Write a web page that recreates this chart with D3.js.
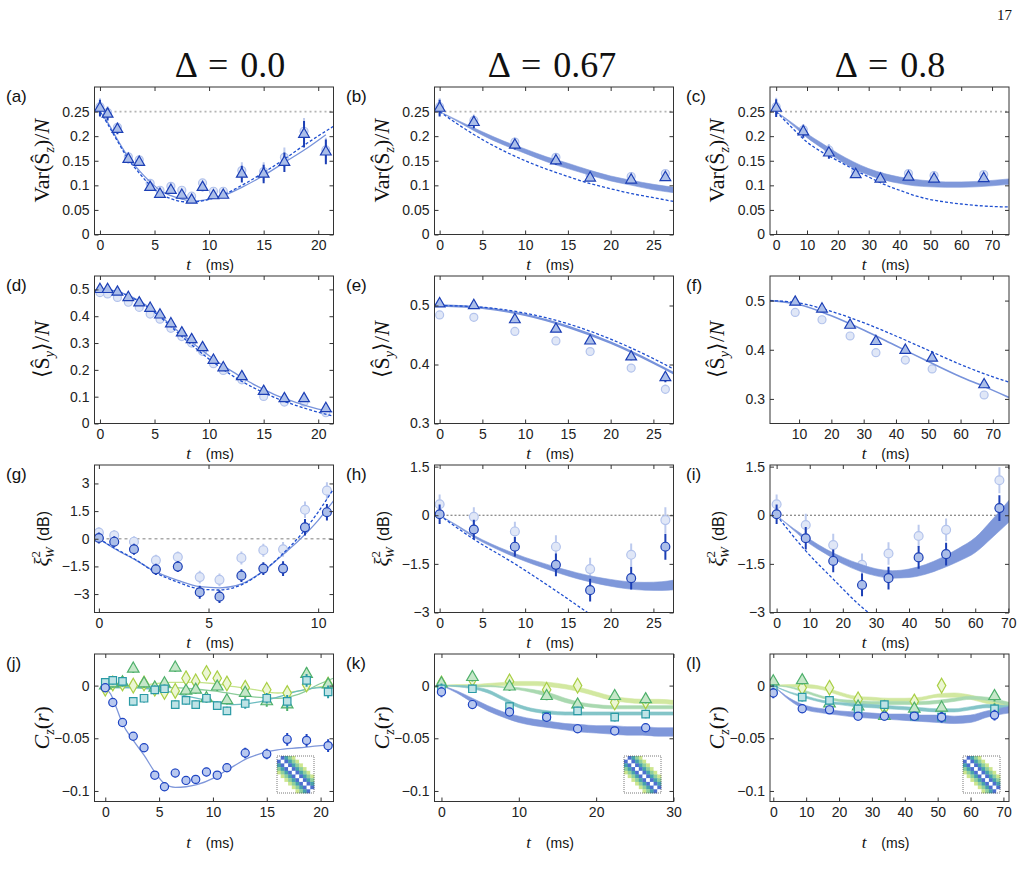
<!DOCTYPE html>
<html>
<head>
<meta charset="utf-8">
<script src="https://cdn.jsdelivr.net/npm/d3@7"></script>
<style>
body { margin: 0; background: #fff; }
svg { display: block; }
</style>
</head>
<body>
<div id="container"><svg></svg></div>
<script>
// ---------- data ----------
// measurement times (ms)
let tA = [0, 0.7, 1.6, 2.6, 3.6, 4.6, 5.5, 6.5, 7.5, 8.4, 9.4, 10.4, 11.3, 13.0, 15.0, 16.9, 18.7, 20.7];
let tB = [0, 4.0, 8.8, 13.6, 17.6, 22.4, 26.4];
let tC = [0, 8.8, 17.1, 25.8, 33.8, 42.9, 51.2, 67.3];

// (a) Var(Sz)/N, Delta = 0
let varA = [0.257, 0.245, 0.214, 0.153, 0.147, 0.096, 0.082, 0.090, 0.080, 0.070, 0.096, 0.079, 0.080, 0.123, 0.123, 0.147, 0.204, 0.168];
let varAerr = [0.017, 0.013, 0.010, 0.008, 0.007, 0.006, 0.005, 0.006, 0.006, 0.005, 0.008, 0.005, 0.005, 0.017, 0.019, 0.020, 0.027, 0.025];
let varAfaint = [0.260, 0.248, 0.218, 0.158, 0.152, 0.104, 0.090, 0.098, 0.090, 0.078, 0.105, 0.088, 0.088, 0.130, 0.128, 0.157, 0.210, 0.172];
let solidAt = [0, 0.7, 1.6, 2.6, 3.6, 4.6, 5.5, 6.5, 7.5, 8.5, 9.5, 10.5, 11.5, 13, 15, 17, 19, 20.7];
let solidAy = [0.25, 0.228, 0.193, 0.157, 0.13, 0.107, 0.09, 0.079, 0.072, 0.068, 0.07, 0.074, 0.081, 0.096, 0.12, 0.148, 0.176, 0.203];
let dashAt = [0, 0.7, 1.6, 2.6, 3.6, 4.6, 5.5, 6.5, 7.5, 8.5, 9.5, 10.5, 11.5, 13, 15, 17, 19, 21.4];
let dashAy = [0.25, 0.225, 0.19, 0.153, 0.125, 0.1, 0.083, 0.073, 0.067, 0.066, 0.069, 0.075, 0.083, 0.1, 0.126, 0.155, 0.186, 0.22];

// (b) Var(Sz)/N, Delta = 0.67
let varB = [0.257, 0.228, 0.182, 0.150, 0.115, 0.111, 0.116];
let varBerr = [0.017, 0.012, 0.009, 0.008, 0.006, 0.005, 0.006];
let varBfaint = [0.260, 0.232, 0.188, 0.157, 0.121, 0.118, 0.124];
let bandBt = [0, 2.5, 5, 7.5, 10, 12.5, 15, 17.5, 20, 22.5, 25, 27.4];
let bandBhi = [0.25, 0.229, 0.209, 0.19, 0.174, 0.158, 0.145, 0.131, 0.119, 0.11, 0.102, 0.096];
let bandBlo = [0.25, 0.226, 0.202, 0.182, 0.165, 0.148, 0.134, 0.121, 0.109, 0.1, 0.091, 0.085];
let dashBy = [0.25, 0.22, 0.193, 0.17, 0.15, 0.133, 0.118, 0.104, 0.093, 0.083, 0.075, 0.067];

// (c) Var(Sz)/N, Delta = 0.8
let varC = [0.257, 0.209, 0.166, 0.122, 0.113, 0.117, 0.113, 0.114];
let varCerr = [0.018, 0.012, 0.012, 0.007, 0.006, 0.006, 0.005, 0.006];
let varCfaint = [0.260, 0.213, 0.172, 0.128, 0.118, 0.124, 0.120, 0.122];
let bandCt = [0, 5, 10, 15, 20, 25, 30, 35, 40, 45, 50, 55, 60, 65, 70, 75.5];
let bandChi = [0.25, 0.228, 0.205, 0.185, 0.165, 0.148, 0.134, 0.124, 0.117, 0.112, 0.109, 0.107, 0.107, 0.108, 0.11, 0.113];
let bandClo = [0.25, 0.224, 0.197, 0.175, 0.153, 0.135, 0.121, 0.111, 0.104, 0.099, 0.097, 0.096, 0.096, 0.097, 0.099, 0.102];
let dashCy = [0.25, 0.218, 0.188, 0.167, 0.15, 0.133, 0.117, 0.102, 0.09, 0.079, 0.071, 0.066, 0.062, 0.059, 0.057, 0.056];

// (d) <Sy>/N, Delta = 0
let syD = [0.5, 0.5, 0.49, 0.47, 0.45, 0.43, 0.405, 0.372, 0.338, 0.313, 0.283, 0.236, 0.208, 0.175, 0.12, 0.093, 0.093, 0.056];
let syDerr = [0.005, 0.005, 0.005, 0.005, 0.005, 0.005, 0.005, 0.006, 0.006, 0.006, 0.006, 0.006, 0.006, 0.008, 0.008, 0.009, 0.01, 0.01];
let syDfaint = [0.488, 0.483, 0.47, 0.452, 0.433, 0.408, 0.389, 0.355, 0.324, 0.3, 0.269, 0.223, 0.198, 0.163, 0.101, 0.08, 0.08, 0.04];
let lineDt = [0, 1, 2, 3, 4, 5, 6, 7, 8, 9, 10, 11, 12, 13, 14, 15, 16, 17, 18, 19, 20, 21.3];
let solidDy = [0.5, 0.497, 0.487, 0.47, 0.447, 0.418, 0.385, 0.35, 0.317, 0.284, 0.253, 0.224, 0.197, 0.172, 0.148, 0.127, 0.108, 0.092, 0.078, 0.065, 0.054, 0.043];
let dashDy = [0.5, 0.497, 0.486, 0.468, 0.444, 0.414, 0.38, 0.343, 0.307, 0.273, 0.24, 0.21, 0.182, 0.157, 0.135, 0.115, 0.097, 0.081, 0.067, 0.054, 0.042, 0.028];

// (e) <Sy>/N, Delta = 0.67
let syE = [0.503, 0.5, 0.476, 0.46, 0.44, 0.413, 0.378];
let syEerr = [0.003, 0.004, 0.005, 0.005, 0.005, 0.006, 0.008];
let syEfaint = [0.484, 0.48, 0.456, 0.44, 0.422, 0.394, 0.358];
let lineEt = [0, 5, 10, 15, 20, 25, 27.4];
let solidEy = [0.5, 0.496, 0.484, 0.464, 0.437, 0.403, 0.385];
let dashEy = [0.5, 0.497, 0.487, 0.469, 0.443, 0.41, 0.392];

// (f) <Sy>/N, Delta = 0.8
let syF = [0.497, 0.483, 0.45, 0.417, 0.399, 0.383, 0.329];
let syFerr = [0.004, 0.005, 0.005, 0.006, 0.007, 0.006, 0.007];
let syFfaint = [0.476, 0.461, 0.428, 0.394, 0.379, 0.361, 0.308];
let solidFt = [1, 10, 20, 30, 40, 50, 60, 67, 75];
let solidFy = [0.5, 0.492, 0.469, 0.44, 0.408, 0.376, 0.345, 0.326, 0.303];
let dashFt = [1, 10, 20, 30, 40, 50, 60, 70, 75];
let dashFy = [0.5, 0.495, 0.478, 0.455, 0.428, 0.399, 0.37, 0.345, 0.334];

// (g) xi_W^2 (dB), Delta = 0
let xiG = [0.04, -0.16, -0.57, -1.66, -1.51, -2.9, -3.14, -2.0, -1.62, -1.62, 0.62, 1.44];
let xiGerr = [0.3, 0.3, 0.3, 0.3, 0.3, 0.35, 0.35, 0.35, 0.35, 0.4, 0.45, 0.45];
let xiGfaint = [0.33, 0.18, -0.16, -1.17, -0.99, -2.08, -2.23, -1.04, -0.62, -0.57, 1.57, 2.61];
let lineGt = [0, 0.7, 1.7, 2.6, 3.6, 4.6, 5.5, 6.5, 7.5, 8.4, 9.2, 10, 10.7];
let solidGy = [0, -0.53, -1.17, -1.8, -2.26, -2.6, -2.66, -2.45, -1.75, -0.85, 0, 1.0, 2.05];
let dashGy = [0, -0.5, -1.15, -1.85, -2.35, -2.72, -2.78, -2.5, -1.75, -0.8, 0.2, 1.45, 2.7];

// (h) xi_W^2 (dB), Delta = 0.67
let xiH = [0.03, -0.44, -0.97, -1.53, -2.31, -1.94, -0.97];
let xiHerr = [0.3, 0.3, 0.3, 0.35, 0.35, 0.35, 0.4];
let xiHfaint = [0.34, -0.05, -0.5, -0.97, -1.66, -1.22, -0.15];
let bandHt = [0, 2, 4, 6, 8, 10, 12, 14, 16, 18, 20, 22, 24, 26, 27.4];
let bandHhi = [0, -0.3, -0.62, -0.88, -1.1, -1.3, -1.47, -1.63, -1.77, -1.89, -1.98, -2.05, -2.07, -2.05, -2.0];
let bandHlo = [0, -0.33, -0.68, -0.96, -1.2, -1.42, -1.61, -1.79, -1.95, -2.08, -2.19, -2.27, -2.31, -2.32, -2.3];
let dashHt = [0, 4, 8.8, 13.6, 17.3, 19];
let dashHy = [0, -0.74, -1.5, -2.33, -3.0, -3.3];

// (i) xi_W^2 (dB), Delta = 0.8
let xiI = [0.03, -0.71, -1.41, -2.15, -1.94, -1.3, -1.2, 0.22];
let xiIerr = [0.3, 0.35, 0.35, 0.35, 0.35, 0.35, 0.35, 0.4];
let xiIfaint = [0.34, -0.3, -0.92, -1.53, -1.18, -0.64, -0.45, 1.08];
let bandIt = [0, 5, 10, 15, 20, 25, 30, 35, 40, 45, 50, 55, 60, 65, 70.2];
let bandIhi = [0, -0.4, -0.74, -1.05, -1.3, -1.5, -1.65, -1.71, -1.66, -1.52, -1.3, -1.02, -0.69, -0.15, 0.46];
let bandIlo = [0, -0.45, -0.88, -1.2, -1.5, -1.72, -1.87, -1.94, -1.92, -1.82, -1.64, -1.42, -1.15, -0.7, -0.21];
let dashIt = [0, 8.8, 17.1, 25.8, 27.7, 30];
let dashIy = [0, -1.1, -1.97, -2.84, -3.0, -3.2];

// (j) Cz(r), Delta = 0 ; r = 1..4
let czJ1 = [-0.002, -0.016, -0.035, -0.048, -0.059, -0.085, -0.096, -0.083, -0.09, -0.089, -0.082, -0.085, -0.078, -0.064, -0.065, -0.051, -0.052, -0.057];
let czJ2 = [0.003, 0.005, 0.004, -0.015, -0.012, -0.004, -0.003, -0.018, -0.014, -0.018, -0.012, -0.019, -0.024, -0.017, -0.012, -0.015, 0.005, -0.006];
let czJ3 = [0, 0.002, 0.003, 0.016, 0.002, -0.002, 0.002, 0.017, -0.005, -0.004, -0.012, -0.001, -0.014, -0.007, -0.015, -0.018, 0.011, 0.001];
let czJ4 = [-0.003, 0.002, 0.002, 0, 0.002, -0.003, -0.006, -0.005, 0.007, 0.004, 0.012, 0.007, 0.002, -0.002, -0.004, -0.007, 0.001, 0.001];
let czJerr = [0.004, 0.004, 0.004, 0.004, 0.004, 0.004, 0.004, 0.004, 0.004, 0.004, 0.004, 0.004, 0.004, 0.005, 0.005, 0.006, 0.006, 0.006];
let czJ1t = [0, 0.5, 1, 1.6, 2.6, 3.6, 4.6, 5.5, 6.5, 7.5, 8.5, 10, 11, 12, 13, 14, 15, 16, 18, 20, 21.2];
let czJ1line = [-0.002, -0.008, -0.02, -0.036, -0.052, -0.066, -0.082, -0.093, -0.0965, -0.096, -0.094, -0.088, -0.082, -0.076, -0.07, -0.066, -0.063, -0.061, -0.059, -0.057, -0.056];
let czJt = [0, 2, 4, 6, 8, 10, 12, 14, 16, 18, 20, 21.2];
let czJ2line = [-0.002, -0.002, -0.003, -0.006, -0.011, -0.015, -0.018, -0.016, -0.011, -0.005, -0.002, -0.002];
let czJ3line = [-0.002, -0.002, -0.002, -0.002, -0.003, -0.005, -0.008, -0.011, -0.012, -0.008, 0.002, 0.007];
let czJ4line = [-0.002, -0.001, 0.001, 0.003, 0.003, 0.002, -0.001, -0.004, -0.007, -0.005, -0.001, 0.001];

// (k) Cz(r), Delta = 0.67
let czK1 = [-0.006, -0.018, -0.025, -0.03, -0.041, -0.043, -0.04];
let czK2 = [-0.003, -0.003, -0.02, -0.029, -0.024, -0.03, -0.027];
let czK3 = [0.002, 0.008, -0.001, -0.01, -0.018, -0.01, -0.013];
let czK4 = [0.002, 0.006, 0.004, -0.004, 0, -0.016, -0.015];
let czKerr = [0.005, 0.004, 0.004, 0.004, 0.004, 0.004, 0.004];
let bandKt = [0, 2, 4, 6, 8, 10, 12, 14, 16, 18, 20, 22, 24, 26, 28, 30];
let bandK1hi = [0, -0.005, -0.012, -0.019, -0.025, -0.029, -0.032, -0.034, -0.036, -0.037, -0.038, -0.038, -0.039, -0.039, -0.04, -0.04];
let bandK1lo = [0, -0.007, -0.016, -0.024, -0.03, -0.035, -0.038, -0.04, -0.042, -0.044, -0.045, -0.046, -0.047, -0.047, -0.048, -0.048];
let bandK2hi = [0, 0, -0.001, -0.004, -0.011, -0.018, -0.022, -0.024, -0.025, -0.025, -0.025, -0.025, -0.025, -0.025, -0.025, -0.025];
let bandK2lo = [0, -0.001, -0.003, -0.007, -0.014, -0.021, -0.025, -0.027, -0.028, -0.028, -0.028, -0.028, -0.028, -0.028, -0.028, -0.028];
let bandK3hi = [0, 0, 0, 0, -0.001, -0.002, -0.004, -0.007, -0.012, -0.016, -0.018, -0.019, -0.019, -0.019, -0.019, -0.019];
let bandK3lo = [0, 0, -0.001, -0.001, -0.002, -0.004, -0.007, -0.011, -0.016, -0.019, -0.021, -0.022, -0.022, -0.022, -0.022, -0.022];
let bandK4hi = [0, 0.001, 0.001, 0.002, 0.003, 0.004, 0.004, 0.003, 0.001, -0.002, -0.006, -0.01, -0.012, -0.013, -0.013, -0.014];
let bandK4lo = [0, -0.001, -0.001, -0.001, 0, 0, 0, -0.001, -0.003, -0.006, -0.01, -0.014, -0.016, -0.017, -0.017, -0.018];

// (l) Cz(r), Delta = 0.8
let czL1 = [-0.007, -0.022, -0.023, -0.029, -0.029, -0.029, -0.03, -0.028];
let czL2 = [-0.004, -0.011, -0.014, -0.022, -0.018, -0.029, -0.03, -0.022];
let czL3 = [0.004, 0.005, -0.017, -0.02, -0.029, -0.022, -0.021, -0.01];
let czL4 = [0.002, -0.002, -0.002, -0.013, -0.021, -0.015, 0, -0.024];
let czLerr = [0.005, 0.004, 0.004, 0.004, 0.004, 0.004, 0.005, 0.005];
let bandLt = [0, 5, 10, 15, 20, 25, 30, 35, 40, 45, 50, 55, 60, 65, 71.7];
let bandL1hi = [0, -0.012, -0.019, -0.022, -0.024, -0.025, -0.026, -0.027, -0.027, -0.028, -0.028, -0.029, -0.028, -0.024, -0.02];
let bandL1lo = [0, -0.014, -0.023, -0.026, -0.028, -0.03, -0.031, -0.032, -0.033, -0.034, -0.035, -0.036, -0.035, -0.03, -0.026];
let bandL2hi = [0, -0.006, -0.01, -0.014, -0.016, -0.017, -0.018, -0.019, -0.02, -0.021, -0.022, -0.022, -0.02, -0.018, -0.019];
let bandL2lo = [0, -0.007, -0.012, -0.016, -0.018, -0.02, -0.021, -0.022, -0.023, -0.024, -0.025, -0.025, -0.023, -0.021, -0.023];
let bandL3hi = [0, -0.001, -0.005, -0.01, -0.013, -0.014, -0.015, -0.015, -0.015, -0.015, -0.014, -0.012, -0.01, -0.011, -0.016];
let bandL3lo = [0, -0.002, -0.007, -0.012, -0.015, -0.017, -0.018, -0.018, -0.018, -0.018, -0.017, -0.015, -0.013, -0.014, -0.019];
let bandL4hi = [0, 0.001, 0.001, -0.001, -0.006, -0.01, -0.011, -0.012, -0.012, -0.011, -0.008, -0.007, -0.009, -0.013, -0.016];
let bandL4lo = [0, -0.001, -0.002, -0.004, -0.009, -0.013, -0.014, -0.015, -0.015, -0.014, -0.011, -0.011, -0.013, -0.017, -0.02];

// column titles and inset colours (|i-j| = 0..4)
let deltaTitles = ['0.0', '0.67', '0.8'];
let insetColors = ['#ffffff', '#4d6fd0', '#47a2ad', '#8fcf9c', '#cde68f'];

// ---------- styles ----------
const sansFont = 'Liberation Sans, Arial, sans-serif';
const serifFont = 'Liberation Serif, Times New Roman, serif';
const darkCol = '#1c3fb5', triFill = '#abbee9';
const faintStroke = '#b3c3ec', faintFill = '#e0e7f7', faintErr = '#bccaee';
const lineCol = '#7893db', dashCol = '#1f4fd0', bandCol = '#7f98da';
const rCols = [
    {stroke: '#1e44c2', fill: '#b8c8ef', band: '#7f97da', line: '#7f97da'},
    {stroke: '#2a9aa5', fill: '#bfe3e6', band: '#84c5c8', line: '#6cbcc0'},
    {stroke: '#4fb06c', fill: '#c6e7c9', band: '#a9d9b0', line: '#8ccc9a'},
    {stroke: '#a9cf45', fill: '#ecf6d3', band: '#d2e8a0', line: '#c5e38a'}
];

let svg = d3.select('#container').select('svg')
    .attr('width', 1027)
    .attr('height', 869);

let colLeft = [94.5, 434.5, 770];
let rowTop = [87, 276, 465, 654];
let boxW = 239, boxH = 147.5;
let letterX = [6, 346, 686];

function fmt(d) {
    return (d < 0 ? '\u2212' : '') + Math.abs(d);
}

function makePanel(p) {
    let L = colLeft[p.col], T = rowTop[p.row];
    let R = L + boxW, B = T + boxH;
    let x = d3.scaleLinear().domain(p.xd).range([L, R]);
    let y = d3.scaleLinear().domain(p.yd).range([B, T]);
    let id = 'clip_' + p.letter;
    svg.append('clipPath').attr('id', id)
        .append('rect').attr('x', L).attr('y', T).attr('width', boxW).attr('height', boxH);
    let g = svg.append('g');
    let plot = g.append('g').attr('clip-path', `url(#${id})`);
    return {L, T, R, B, x, y, g, plot, p};
}

function styleAxis(sel) {
    sel.select('.domain').remove();
    sel.selectAll('line').attr('stroke', '#333');
    sel.selectAll('text').attr('font-family', sansFont).attr('font-size', 14).attr('fill', '#222');
}

function refLine(P, v, color, dash, w) {
    P.plot.append('line')
        .attr('x1', P.L).attr('x2', P.R)
        .attr('y1', P.y(v)).attr('y2', P.y(v))
        .attr('stroke', color).attr('stroke-dasharray', dash).attr('stroke-width', w);
}

function drawLine(P, t, v, color, w, dash) {
    let line = d3.line()
        .x(d => P.x(d))
        .y((d, i) => P.y(v[i]))
        .curve(d3.curveMonotoneX);
    P.plot.append('path')
        .attr('d', line(t))
        .attr('fill', 'none')
        .attr('stroke', color)
        .attr('stroke-width', w)
        .attr('stroke-dasharray', dash || null);
}

function drawBand(P, t, lo, hi, color) {
    let area = d3.area()
        .x(d => P.x(d))
        .y0((d, i) => P.y(lo[i]))
        .y1((d, i) => P.y(hi[i]))
        .curve(d3.curveMonotoneX);
    P.plot.append('path')
        .attr('d', area(t))
        .attr('fill', color)
        .attr('stroke', color)
        .attr('stroke-width', 0.6);
}

function drawErr(P, t, v, e, color, w) {
    P.plot.append('g').selectAll('line')
        .data(t).enter().append('line')
        .attr('x1', d => P.x(d)).attr('x2', d => P.x(d))
        .attr('y1', (d, i) => P.y(v[i] - e[i]))
        .attr('y2', (d, i) => P.y(v[i] + e[i]))
        .attr('stroke', color)
        .attr('stroke-width', w);
}

function drawPts(P, t, v, sym, size, stroke, fill) {
    P.plot.append('g').selectAll('path')
        .data(t).enter().append('path')
        .attr('transform', (d, i) => `translate(${P.x(d)},${P.y(v[i])})`)
        .attr('d', d3.symbol().type(sym).size(size)())
        .attr('fill', fill)
        .attr('stroke', stroke)
        .attr('stroke-width', 1.2);
}

// y labels, written as rotated rich text
function yLabel(P, kind) {
    let t = P.g.append('text')
        .attr('transform', `translate(${P.L - 46},${(P.T + P.B) / 2}) rotate(-90)`)
        .attr('text-anchor', 'middle')
        .attr('font-family', serifFont)
        .attr('font-size', 22)
        .attr('fill', '#111');
    if (kind === 'var') {
        t.append('tspan').text('Var(\u015C');
        t.append('tspan').attr('font-size', 14).attr('font-style', 'italic').attr('dy', 5).text('z');
        t.append('tspan').attr('dy', -5).text(')/');
        t.append('tspan').attr('font-style', 'italic').text('N');
    } else if (kind === 'sy') {
        t.append('tspan').text('\u27E8\u015C');
        t.append('tspan').attr('font-size', 14).attr('font-style', 'italic').attr('dy', 5).text('y');
        t.append('tspan').attr('dy', -5).text('\u27E9/');
        t.append('tspan').attr('font-style', 'italic').text('N');
    } else if (kind === 'xi') {
        t.attr('font-size', 21);
        t.append('tspan').attr('font-style', 'italic').text('\u03BE');
        t.append('tspan').attr('font-size', 13).attr('dy', -9).text('2');
        t.append('tspan').attr('font-size', 13).attr('font-style', 'italic').attr('dx', -7).attr('dy', 14).text('W');
        t.append('tspan').attr('font-family', sansFont).attr('font-size', 16).attr('dx', 6).attr('dy', -5).text('(dB)');
    } else {
        t.append('tspan').attr('font-style', 'italic').text('C');
        t.append('tspan').attr('font-size', 14).attr('font-style', 'italic').attr('dy', 5).text('z');
        t.append('tspan').attr('dy', -5).text('(');
        t.append('tspan').attr('font-style', 'italic').text('r');
        t.append('tspan').text(')');
    }
}

function finishPanel(P, kind) {
    let p = P.p;
    P.g.append('g').attr('transform', `translate(0,${P.B})`)
        .call(d3.axisBottom(P.x).tickValues(p.xt).tickSize(-4).tickSizeOuter(0).tickPadding(6).tickFormat(fmt))
        .call(styleAxis);
    P.g.append('g').attr('transform', `translate(0,${P.T})`)
        .call(d3.axisTop(P.x).tickValues(p.xt).tickSize(-4).tickSizeOuter(0).tickFormat(''))
        .call(styleAxis);
    P.g.append('g').attr('transform', `translate(${P.L},0)`)
        .call(d3.axisLeft(P.y).tickValues(p.yt).tickSize(-4).tickSizeOuter(0).tickPadding(5).tickFormat(fmt))
        .call(styleAxis);
    P.g.append('g').attr('transform', `translate(${P.R},0)`)
        .call(d3.axisRight(P.y).tickValues(p.yt).tickSize(-4).tickSizeOuter(0).tickFormat(''))
        .call(styleAxis);
    P.g.append('rect')
        .attr('x', P.L).attr('y', P.T).attr('width', boxW).attr('height', boxH)
        .attr('fill', 'none').attr('stroke', '#333').attr('stroke-width', 1);

    // panel letter
    P.g.append('text')
        .attr('x', letterX[p.col]).attr('y', P.T + 15)
        .attr('font-family', sansFont).attr('font-size', 17).attr('fill', '#111')
        .text('(' + p.letter + ')');

    // x label
    let xl = P.g.append('text')
        .attr('x', (P.L + P.R) / 2 - 4)
        .attr('y', P.B + (p.row === 3 ? 46 : 35))
        .attr('text-anchor', 'middle')
        .attr('fill', '#111');
    xl.append('tspan').attr('font-family', serifFont).attr('font-style', 'italic').attr('font-size', 17).text('t');
    xl.append('tspan').attr('font-family', sansFont).attr('font-size', 14).attr('dx', 15).text('(ms)');

    yLabel(P, kind);
}

function drawInset(P, x0, y0, size) {
    let n = 10;
    let cells = [];
    for (let i = 0; i < n; i++)
        for (let j = 0; j < n; j++)
            cells.push({i: i, j: j, k: Math.abs(i - j)});
    let s = d3.scaleBand().domain(d3.range(n)).range([0, size]);
    let g = P.g.append('g').attr('transform', `translate(${x0},${y0})`);
    g.append('rect').attr('width', size).attr('height', size).attr('fill', '#fff');
    g.selectAll('rect.cell')
        .data(cells).enter().append('rect')
        .attr('class', 'cell')
        .attr('x', d => s(d.j)).attr('y', d => s(d.i))
        .attr('width', s.bandwidth() + 0.3).attr('height', s.bandwidth() + 0.3)
        .attr('fill', d => d.k < insetColors.length ? insetColors[d.k] : '#ffffff');
    g.append('rect').attr('width', size).attr('height', size)
        .attr('fill', 'none').attr('stroke', '#555').attr('stroke-width', 0.8)
        .attr('stroke-dasharray', '1,1');
}

// ---------- header ----------
svg.append('text')
    .attr('x', 1012).attr('y', 20)
    .attr('text-anchor', 'end')
    .attr('font-family', serifFont).attr('font-size', 15).attr('fill', '#111')
    .text('17');

let titleX = [230, 552, 890];
deltaTitles.forEach((v, i) => {
    svg.append('text')
        .attr('x', titleX[i]).attr('y', 77)
        .attr('text-anchor', 'middle')
        .attr('font-family', serifFont).attr('font-size', 36).attr('fill', '#111')
        .style('word-spacing', '3px')
        .text('\u0394 = ' + v);
});

// ---------- row 1: Var(Sz)/N ----------
let yVar = [0, 0.05, 0.1, 0.15, 0.2, 0.25];
let P;

P = makePanel({col: 0, row: 0, xd: [-0.5, 21.4], yd: [0, 0.3], xt: [0, 5, 10, 15, 20], yt: yVar, letter: 'a'});
refLine(P, 0.25, '#b4b4b4', '2,3', 1.6);
drawErr(P, tA, varAfaint, varAerr, faintErr, 2);
drawPts(P, tA, varAfaint, d3.symbolCircle, 50, faintStroke, faintFill);
drawLine(P, solidAt, solidAy, lineCol, 1.3);
drawLine(P, dashAt, dashAy, dashCol, 1.3, '3,2');
drawErr(P, tA, varA, varAerr, darkCol, 2);
drawPts(P, tA, varA, d3.symbolTriangle, 50, darkCol, triFill);
finishPanel(P, 'var');

P = makePanel({col: 1, row: 0, xd: [-0.6, 27.35], yd: [0, 0.3], xt: [0, 5, 10, 15, 20, 25], yt: yVar, letter: 'b'});
refLine(P, 0.25, '#b4b4b4', '2,3', 1.6);
drawErr(P, tB, varBfaint, varBerr, faintErr, 2);
drawPts(P, tB, varBfaint, d3.symbolCircle, 50, faintStroke, faintFill);
drawBand(P, bandBt, bandBlo, bandBhi, bandCol);
drawLine(P, bandBt, dashBy, dashCol, 1.3, '3,2');
drawErr(P, tB, varB, varBerr, darkCol, 2);
drawPts(P, tB, varB, d3.symbolTriangle, 50, darkCol, triFill);
finishPanel(P, 'var');

P = makePanel({col: 2, row: 0, xd: [-2, 75.5], yd: [0, 0.3], xt: [0, 10, 20, 30, 40, 50, 60, 70], yt: yVar, letter: 'c'});
refLine(P, 0.25, '#b4b4b4', '2,3', 1.6);
drawErr(P, tC, varCfaint, varCerr, faintErr, 2);
drawPts(P, tC, varCfaint, d3.symbolCircle, 50, faintStroke, faintFill);
drawBand(P, bandCt, bandClo, bandChi, bandCol);
drawLine(P, bandCt, dashCy, dashCol, 1.3, '3,2');
drawErr(P, tC, varC, varCerr, darkCol, 2);
drawPts(P, tC, varC, d3.symbolTriangle, 50, darkCol, triFill);
finishPanel(P, 'var');

// ---------- row 2: <Sy>/N ----------
P = makePanel({col: 0, row: 1, xd: [-0.5, 21.4], yd: [0, 0.55], xt: [0, 5, 10, 15, 20], yt: [0, 0.1, 0.2, 0.3, 0.4, 0.5], letter: 'd'});
drawErr(P, tA, syDfaint, syDerr, faintErr, 2);
drawPts(P, tA, syDfaint, d3.symbolCircle, 50, faintStroke, faintFill);
drawLine(P, lineDt, solidDy, lineCol, 1.3);
drawLine(P, lineDt, dashDy, dashCol, 1.3, '3,2');
drawErr(P, tA, syD, syDerr, darkCol, 2);
drawPts(P, tA, syD, d3.symbolTriangle, 50, darkCol, triFill);
finishPanel(P, 'sy');

P = makePanel({col: 1, row: 1, xd: [-0.6, 27.35], yd: [0.3, 0.55], xt: [0, 5, 10, 15, 20, 25], yt: [0.3, 0.4, 0.5], letter: 'e'});
drawErr(P, tB, syEfaint, syEerr, faintErr, 2);
drawPts(P, tB, syEfaint, d3.symbolCircle, 50, faintStroke, faintFill);
drawLine(P, lineEt, solidEy, lineCol, 2.4);
drawLine(P, lineEt, dashEy, dashCol, 1.3, '3,2');
drawErr(P, tB, syE, syEerr, darkCol, 2);
drawPts(P, tB, syE, d3.symbolTriangle, 50, darkCol, triFill);
finishPanel(P, 'sy');

let tF = tC.slice(1);
P = makePanel({col: 2, row: 1, xd: [1, 75], yd: [0.25, 0.55], xt: [10, 20, 30, 40, 50, 60, 70], yt: [0.3, 0.4, 0.5], letter: 'f'});
drawErr(P, tF, syFfaint, syFerr, faintErr, 2);
drawPts(P, tF, syFfaint, d3.symbolCircle, 50, faintStroke, faintFill);
drawLine(P, solidFt, solidFy, lineCol, 1.6);
drawLine(P, dashFt, dashFy, dashCol, 1.3, '3,2');
drawErr(P, tF, syF, syFerr, darkCol, 2);
drawPts(P, tF, syF, d3.symbolTriangle, 50, darkCol, triFill);
finishPanel(P, 'sy');

// ---------- row 3: squeezing ----------
let tG = tA.slice(0, 12);
P = makePanel({col: 0, row: 2, xd: [-0.2, 10.7], yd: [-4, 4], xt: [0, 5, 10], yt: [-3, -1.5, 0, 1.5, 3], letter: 'g'});
refLine(P, 0, '#aaaaaa', '3,3', 1.4);
drawErr(P, tG, xiGfaint, xiGerr, faintErr, 2);
drawPts(P, tG, xiGfaint, d3.symbolCircle, 62, faintStroke, faintFill);
drawLine(P, lineGt, solidGy, lineCol, 1.3);
drawLine(P, lineGt, dashGy, dashCol, 1.3, '3,2');
drawErr(P, tG, xiG, xiGerr, darkCol, 2);
drawPts(P, tG, xiG, d3.symbolCircle, 62, darkCol, triFill);
finishPanel(P, 'xi');

P = makePanel({col: 1, row: 2, xd: [-0.6, 27.35], yd: [-3, 1.55], xt: [0, 5, 10, 15, 20, 25], yt: [-3, -1.5, 0, 1.5], letter: 'h'});
refLine(P, 0, '#666666', '2,2', 1);
drawErr(P, tB, xiHfaint, xiHerr, faintErr, 2);
drawPts(P, tB, xiHfaint, d3.symbolCircle, 62, faintStroke, faintFill);
drawBand(P, bandHt, bandHlo, bandHhi, bandCol);
drawLine(P, dashHt, dashHy, dashCol, 1.3, '3,2');
drawErr(P, tB, xiH, xiHerr, darkCol, 2);
drawPts(P, tB, xiH, d3.symbolCircle, 62, darkCol, triFill);
finishPanel(P, 'xi');

P = makePanel({col: 2, row: 2, xd: [-2, 70.2], yd: [-3, 1.55], xt: [0, 10, 20, 30, 40, 50, 60, 70], yt: [-3, -1.5, 0, 1.5], letter: 'i'});
refLine(P, 0, '#666666', '2,2', 1);
drawErr(P, tC, xiIfaint, xiIerr, faintErr, 2);
drawPts(P, tC, xiIfaint, d3.symbolCircle, 62, faintStroke, faintFill);
drawBand(P, bandIt, bandIlo, bandIhi, bandCol);
drawLine(P, dashIt, dashIy, dashCol, 1.3, '3,2');
drawErr(P, tC, xiI, xiIerr, darkCol, 2);
drawPts(P, tC, xiI, d3.symbolCircle, 62, darkCol, triFill);
finishPanel(P, 'xi');

// ---------- row 4: correlations ----------
let syms = [d3.symbolCircle, d3.symbolSquare, d3.symbolTriangle, d3.symbolDiamond];
let symSize = [52, 56, 58, 62];
let yCz = [-0.1, -0.05, 0];

function drawCz(P, t, series, errs) {
    for (let k = series.length - 1; k >= 0; k--) {
        drawErr(P, t, series[k], errs, rCols[k].stroke, 2);
        drawPts(P, t, series[k], syms[k], symSize[k], rCols[k].stroke, rCols[k].fill);
    }
}

P = makePanel({col: 0, row: 3, xd: [-1, 21.2], yd: [-0.11, 0.03], xt: [0, 5, 10, 15, 20], yt: yCz, letter: 'j'});
drawLine(P, czJt, czJ4line, rCols[3].line, 1.3);
drawLine(P, czJt, czJ3line, rCols[2].line, 1.3);
drawLine(P, czJt, czJ2line, rCols[1].line, 1.3);
drawLine(P, czJ1t, czJ1line, rCols[0].line, 1.3);
drawCz(P, tA, [czJ1, czJ2, czJ3, czJ4], czJerr);
finishPanel(P, 'cz');
drawInset(P, 277, 756, 37);

P = makePanel({col: 1, row: 3, xd: [-0.9, 30], yd: [-0.11, 0.03], xt: [0, 10, 20, 30], yt: yCz, letter: 'k'});
drawBand(P, bandKt, bandK4lo, bandK4hi, rCols[3].band);
drawBand(P, bandKt, bandK3lo, bandK3hi, rCols[2].band);
drawBand(P, bandKt, bandK2lo, bandK2hi, rCols[1].band);
drawBand(P, bandKt, bandK1lo, bandK1hi, rCols[0].band);
drawCz(P, tB, [czK1, czK2, czK3, czK4], czKerr);
finishPanel(P, 'cz');
drawInset(P, 624, 756, 37);

P = makePanel({col: 2, row: 3, xd: [-1, 71.7], yd: [-0.11, 0.03], xt: [0, 10, 20, 30, 40, 50, 60, 70], yt: yCz, letter: 'l'});
drawBand(P, bandLt, bandL4lo, bandL4hi, rCols[3].band);
drawBand(P, bandLt, bandL3lo, bandL3hi, rCols[2].band);
drawBand(P, bandLt, bandL2lo, bandL2hi, rCols[1].band);
drawBand(P, bandLt, bandL1lo, bandL1hi, rCols[0].band);
drawCz(P, tC, [czL1, czL2, czL3, czL4], czLerr);
finishPanel(P, 'cz');
drawInset(P, 963, 756, 37);
</script>
</body>
</html>
